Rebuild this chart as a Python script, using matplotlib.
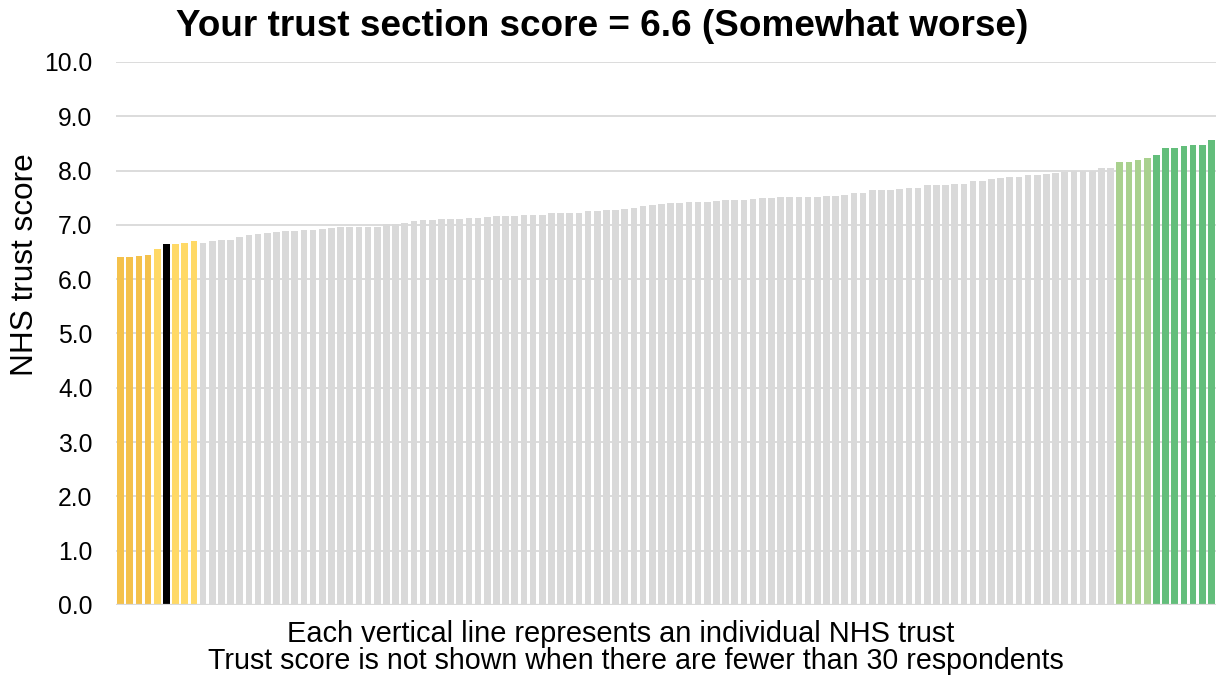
import matplotlib
matplotlib.use("Agg")
import matplotlib.pyplot as plt
import numpy as np

plt.rcParams["font.family"] = ["Liberation Sans", "DejaVu Sans"]

# trust scores, sorted low to high as in the chart
worse_scores = [6.40, 6.41, 6.43, 6.45]
somewhat_worse_scores = [6.56, 6.65, 6.65, 6.67, 6.70]
your_trust_index = 5
similar_scores = [
    6.67, 6.70, 6.72, 6.72, 6.78, 6.81, 6.84, 6.86, 6.87, 6.88,
    6.89, 6.91, 6.91, 6.92, 6.95, 6.96, 6.96, 6.96, 6.96, 6.96,
    7.01, 7.01, 7.03, 7.08, 7.09, 7.09, 7.10, 7.11, 7.11, 7.13,
    7.13, 7.15, 7.16, 7.17, 7.17, 7.18, 7.18, 7.19, 7.21, 7.22,
    7.22, 7.22, 7.26, 7.26, 7.27, 7.28, 7.29, 7.32, 7.34, 7.36,
    7.39, 7.40, 7.41, 7.42, 7.42, 7.42, 7.44, 7.45, 7.45, 7.46,
    7.48, 7.49, 7.49, 7.51, 7.51, 7.51, 7.51, 7.52, 7.53, 7.53,
    7.55, 7.58, 7.58, 7.64, 7.65, 7.65, 7.67, 7.68, 7.68, 7.73,
    7.73, 7.74, 7.75, 7.76, 7.80, 7.81, 7.84, 7.86, 7.89, 7.89,
    7.92, 7.92, 7.93, 7.96, 7.98, 7.99, 8.00, 8.00, 8.05, 8.05,
]
somewhat_better_scores = [8.15, 8.15, 8.20, 8.23]
better_scores = [8.29, 8.42, 8.42, 8.46, 8.47, 8.47, 8.56]

yticks = np.arange(0, 10.01, 1.0)
title = "Your trust section score = 6.6 (Somewhat worse)"
ylabel = "NHS trust score"
note1 = "Each vertical line represents an individual NHS trust"
note2 = "Trust score is not shown when there are fewer than 30 respondents"

groups = [
    (worse_scores, "#F4C14B"),
    (somewhat_worse_scores, "#FFD966"),
    (similar_scores, "#D9D9D9"),
    (somewhat_better_scores, "#A9D18E"),
    (better_scores, "#63BE7B"),
]

scores = []
colors = []
for vals, c in groups:
    scores += vals
    colors += [c] * len(vals)
colors[your_trust_index] = "#000000"

W, H = 1217, 679
fig = plt.figure(figsize=(W / 100, H / 100), dpi=100)
ax = fig.add_axes([116 / W, (H - 605) / H, 1100 / W, 543 / H])

x = np.arange(len(scores))
ax.bar(x, scores, width=0.72, color=colors, zorder=3)

ax.set_xlim(-0.5, len(scores) - 0.5)
ax.set_ylim(0, 10)
ax.set_yticks(yticks)
ax.set_yticklabels([f"{v:.1f}" for v in yticks], fontsize=17.8)
ax.set_xticks([])
ax.tick_params(axis="y", length=0, pad=17)
ax.grid(axis="y", color="#D9D9D9", linewidth=1.3, zorder=0)
for s in ["top", "right", "left", "bottom"]:
    ax.spines[s].set_visible(False)
ax.axhline(0, color="#D9D9D9", linewidth=1.6, zorder=4)

fig.text(25 / W, 1 - 265 / H, ylabel, rotation=90, fontsize=22.7,
         ha="center", va="center")
fig.text(602 / W, 1 - 27 / H, title, fontsize=26.6, fontweight="bold",
         ha="center", va="center")
fig.text(621 / W, 1 - 634 / H, note1, fontsize=20.9, ha="center", va="center")
fig.text(636 / W, 1 - 661 / H, note2, fontsize=20.6, ha="center", va="center")

fig.savefig("out.png", dpi=100)
